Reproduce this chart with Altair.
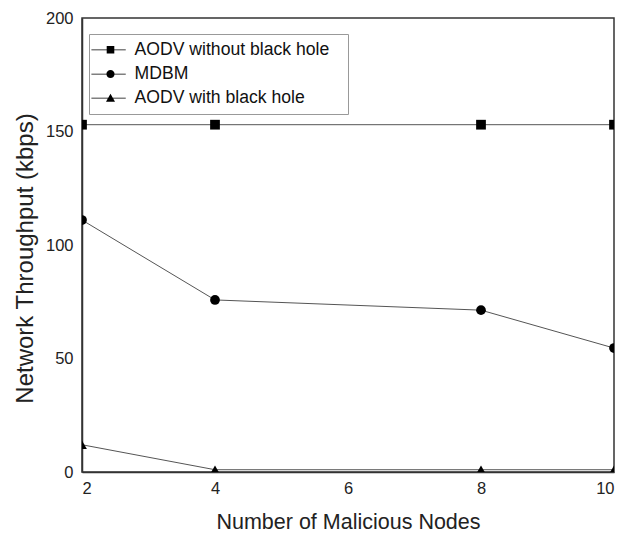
import altair as alt
import pandas as pd

nodes = [2, 4, 8, 10]
series_names = ["AODV without black hole", "MDBM", "AODV with black hole"]
aodv_without = [153, 153, 153, 153]
mdbm = [111, 75.8, 71.3, 54.6]
aodv_with = [12, 1, 1, 1]
x_ticks = [2, 4, 6, 8, 10]
y_ticks = [0, 50, 100, 150, 200]

rows = []
for name, vals in zip(series_names, [aodv_without, mdbm, aodv_with]):
    for n, v in zip(nodes, vals):
        rows.append({"nodes": n, "throughput": v, "series": name})
df = pd.DataFrame(rows)

FONT = "Liberation Sans"

x = alt.X("nodes:Q", scale=alt.Scale(domain=[2, 10], nice=False),
          axis=alt.Axis(values=x_ticks, title="Number of Malicious Nodes"))
y = alt.Y("throughput:Q", scale=alt.Scale(domain=[0, 200], nice=False),
          axis=alt.Axis(values=y_ticks, title="Network Throughput (kbps)",
                        titleX=-45, titleY=240, titleFontSize=24))

plot_shapes = ["square", "circle", "triangle-up"]
seg = "M-3.82,-0.07L3.05,-0.07L3.05,0.08L-3.82,0.08Z"
legend_shapes = [
    seg + "M-0.76,-0.76L0.76,-0.76L0.76,0.76L-0.76,0.76Z",
    seg + "M-0.82,0A0.82,0.82 0 1,1 0.82,0A0.82,0.82 0 1,1 -0.82,0Z",
    seg + "M0,-0.9L0.9,0.72L-0.9,0.72Z",
]

lines = alt.Chart(df).mark_line(color="#555555", strokeWidth=1, clip=True).encode(
    x=x, y=y, detail="series:N"
)

points = alt.Chart(df).mark_point(filled=True, color="black", opacity=1, size=95, clip=True).encode(
    x=x, y=y,
    shape=alt.Shape("series:N", scale=alt.Scale(domain=series_names, range=plot_shapes), legend=None),
)

legend_layer = alt.Chart(df).transform_filter(
    alt.datum.throughput < -1000
).mark_point(
    filled=True, color="black", size=100
).encode(
    x=x, y=y,
    shape=alt.Shape(
        "legend_series:N",
        title="\u00a0",
        scale=alt.Scale(domain=series_names, range=legend_shapes),
        legend=alt.Legend(
            orient="none", legendX=7, legendY=16,
            strokeColor="#999999", padding=7,
            symbolSize=100, symbolFillColor="black",
            symbolOpacity=1,
            symbolOffset=5.7, labelOffset=15.3,
            labelFont=FONT, labelFontSize=17.6, labelColor="#111111",
            rowPadding=5.2, labelLimit=400,
            titleOrient="right", titlePadding=12, titleFontSize=17.6, titleFont=FONT,
        ),
    ),
).transform_calculate(legend_series="datum.series")

chart = alt.layer(lines, points, legend_layer).resolve_scale(shape="independent").properties(
    width=532, height=454,
    autosize=alt.AutoSizeParams(type="none"),
    padding={"left": 82, "top": 18, "right": 24, "bottom": 66},
).configure_view(
    stroke="#333333", strokeWidth=1.5
).configure_axis(
    ticks=False, grid=False, domainColor="#333333", domainWidth=1.5,
    labelFont=FONT, labelFontSize=16.5, labelColor="#222222",
    titleFont=FONT, titleFontSize=21.5, titleColor="#222222", titleFontWeight="normal",
).configure_axisX(
    labelPadding=8, titlePadding=15,
).configure_axisY(
    labelPadding=9,
)

chart.save("out.html", embed_options={"renderer": "svg", "actions": False})
